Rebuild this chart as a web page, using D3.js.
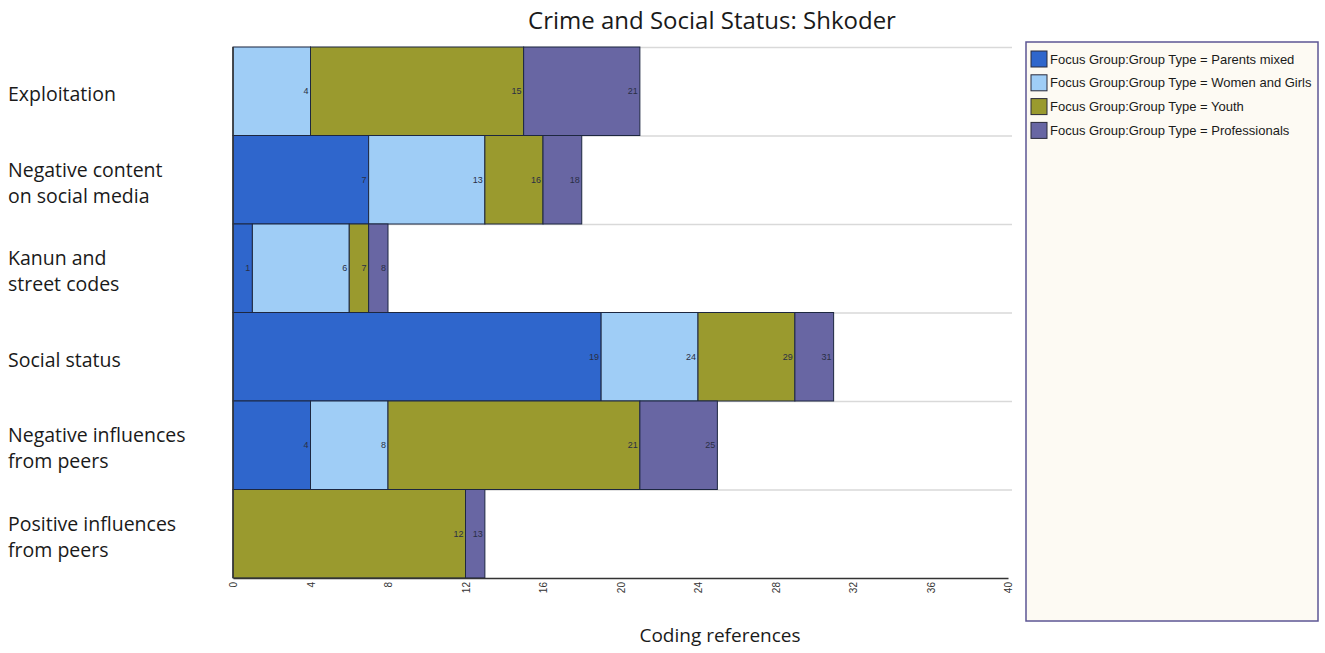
<!DOCTYPE html>
<html>
<head>
<meta charset="utf-8">
<script src="https://cdn.jsdelivr.net/npm/d3@7"></script>
<style>
  html, body { margin: 0; padding: 0; background: #ffffff; }
  svg { display: block; }
</style>
</head>
<body>
<svg id="chart" width="1325" height="653"></svg>
<script>
// ---- data ----
const categories = [
  "Exploitation",
  "Negative content on social media",
  "Kanun and street codes",
  "Social status",
  "Negative influences from peers",
  "Positive influences from peers"
];
const categoryLines = [
  ["Exploitation"],
  ["Negative content", "on social media"],
  ["Kanun and", "street codes"],
  ["Social status"],
  ["Negative influences", "from peers"],
  ["Positive influences", "from peers"]
];
const seriesNames = [
  "Focus Group:Group Type = Parents mixed",
  "Focus Group:Group Type = Women and Girls",
  "Focus Group:Group Type = Youth",
  "Focus Group:Group Type = Professionals"
];
const parentsMixed  = [0, 7, 1, 19, 4, 0];
const womenAndGirls = [4, 6, 5, 5, 4, 0];
const youth         = [11, 3, 1, 5, 13, 12];
const professionals = [6, 2, 1, 2, 4, 1];
const xTicks = [0, 4, 8, 12, 16, 20, 24, 28, 32, 36, 40];
const colors = ["#2f66cc", "#9fcdf6", "#9a9a2e", "#6866a3"];

// ---- build table ----
const seriesValues = [parentsMixed, womenAndGirls, youth, professionals];
const table = categories.map((c, i) => {
  const row = { category: c };
  seriesNames.forEach((s, j) => row[s] = seriesValues[j][i]);
  return row;
});
const stacked = d3.stack().keys(seriesNames)(table);

const svg = d3.select("#chart");
const x = d3.scaleLinear().domain([0, 40]).range([233, 1008]);
const y = d3.scaleBand().domain(categories).range([47, 578]).padding(0);

// gridlines at band boundaries
const bounds = categories.map(c => y(c));
svg.append("g").selectAll("line").data(bounds).join("line")
  .attr("x1", x(0)).attr("x2", 1012)
  .attr("y1", d => d + 0.5).attr("y2", d => d + 0.5)
  .attr("stroke", "#d9d9d9").attr("stroke-width", 1.5);

// bars
const layers = svg.append("g").selectAll("g").data(stacked).join("g")
  .attr("fill", (d, i) => colors[i]);
layers.selectAll("rect").data(d => d.filter(p => p[1] - p[0] > 0)).join("rect")
  .attr("x", d => x(d[0]))
  .attr("y", d => y(d.data.category))
  .attr("width", d => x(d[1]) - x(d[0]))
  .attr("height", y.bandwidth())
  .attr("stroke", "#1d2740").attr("stroke-width", 1);

// value labels
layers.selectAll("text").data(d => d.filter(p => p[1] - p[0] > 0)).join("text")
  .attr("x", d => x(d[1]) - 2)
  .attr("y", d => y(d.data.category) + y.bandwidth() / 2 + 3)
  .attr("text-anchor", "end")
  .attr("font-family", "Liberation Sans, Arial, sans-serif")
  .attr("font-size", 9)
  .attr("fill", "#2a2f45")
  .text(d => d[1]);

// left axis line
svg.append("line")
  .attr("x1", x(0)).attr("x2", x(0))
  .attr("y1", y.range()[0]).attr("y2", y.range()[1])
  .attr("stroke", "#333").attr("stroke-width", 1.5);

// bottom axis
const xAxis = d3.axisBottom(x).tickValues(xTicks).tickSize(0).tickPadding(3);
const gx = svg.append("g").attr("transform", `translate(0,${y.range()[1]})`).call(xAxis);
gx.select(".domain").attr("stroke", "#333").attr("stroke-width", 1.5);
gx.selectAll("text")
  .attr("font-family", "Liberation Sans, Arial, sans-serif")
  .attr("font-size", 10)
  .attr("fill", "#333")
  .attr("transform", "rotate(-90)")
  .attr("text-anchor", "end")
  .attr("dy", "0.35em")
  .attr("x", -4)
  .attr("y", 0);

// category labels
const catG = svg.append("g");
categories.forEach((c, i) => {
  const lines = categoryLines[i];
  const cy = y(c) + y.bandwidth() / 2;
  const lh = 26;
  const t = catG.append("text")
    .attr("font-family", "Open Sans, sans-serif")
    .attr("font-size", 19.5)
    .attr("fill", "#1a1a1a");
  lines.forEach((l, k) => {
    t.append("tspan")
      .attr("x", 8)
      .attr("y", cy + 10 + (k - (lines.length - 1) / 2) * lh)
      .text(l);
  });
});

// title
svg.append("text")
  .attr("x", 712).attr("y", 29)
  .attr("text-anchor", "middle")
  .attr("font-family", "Open Sans, sans-serif")
  .attr("font-size", 24)
  .attr("fill", "#1a1a1a")
  .text("Crime and Social Status: Shkoder");

// axis title
svg.append("text")
  .attr("x", 720).attr("y", 642)
  .attr("text-anchor", "middle")
  .attr("font-family", "Open Sans, sans-serif")
  .attr("font-size", 19)
  .attr("fill", "#1a1a1a")
  .text("Coding references");

// legend
const lg = svg.append("g");
lg.append("rect")
  .attr("x", 1026).attr("y", 42).attr("width", 292).attr("height", 579)
  .attr("fill", "#fdfaf3").attr("stroke", "#5c5694").attr("stroke-width", 1.5);
const items = lg.selectAll("g.item").data(seriesNames).join("g")
  .attr("class", "item")
  .attr("transform", (d, i) => `translate(1031,${51 + i * 23.8})`);
items.append("rect")
  .attr("width", 16).attr("height", 16)
  .attr("fill", (d, i) => colors[i])
  .attr("stroke", "#2a2a3a").attr("stroke-width", 1);
items.append("text")
  .attr("x", 19).attr("y", 12.5)
  .attr("font-family", "Liberation Sans, Arial, sans-serif")
  .attr("font-size", 13)
  .attr("fill", "#1a1a1a")
  .text(d => d);
</script>
</body>
</html>
